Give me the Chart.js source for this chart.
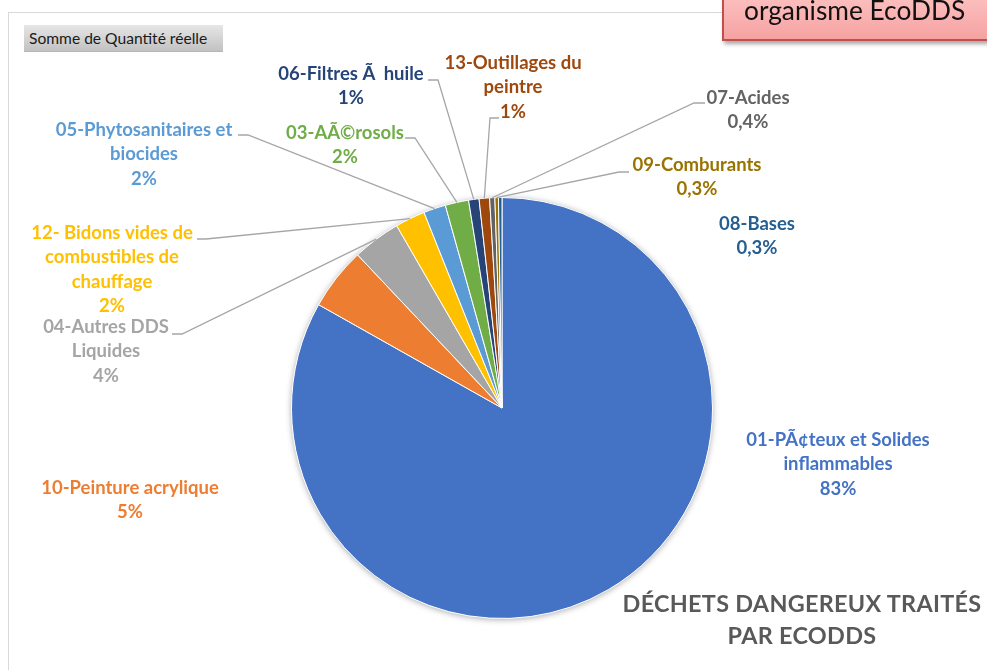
<!DOCTYPE html>
<html lang="fr">
<head>
<meta charset="utf-8">
<title>Déchets dangereux traités par EcoDDS</title>
<script src="https://cdn.jsdelivr.net/npm/chart.js@4.4.1/dist/chart.umd.min.js"></script>
<style>
  html, body { margin: 0; padding: 0; background: #fff; }
  #wrap { position: relative; width: 987px; height: 670px; overflow: hidden; font-family: Lato, 'Open Sans', sans-serif; }
  #frame { position: absolute; left: 8px; top: 12px; width: 1200px; height: 900px; border: 1px solid #d9d9d9; box-sizing: border-box; }
  #pivotBtn { position: absolute; left: 24px; top: 25px; width: 199px; height: 27px; box-sizing: border-box;
    background: linear-gradient(#e6e6e6, #c2c2c2); border-bottom: 1px solid #b5b5b5;
    font-size: 15.6px; line-height: 27px; padding-left: 5px; color: #1a1a1a; white-space: nowrap; }
  #tag { position: absolute; left: 722px; top: -21px; width: 300px; height: 62px; box-sizing: border-box;
    background: linear-gradient(#ffcaca, #f6a2a2); border: 2px solid #c0504d; box-shadow: 2px 3px 4px rgba(0,0,0,0.35); }
  #tag span { position: absolute; left: 20px; top: 14px; font-size: 26.3px; line-height: 30px; color: #111; white-space: nowrap; }
  #title { position: absolute; left: 600px; width: 404px; top: 587px; text-align: center; font-weight: bold;
    font-size: 23.4px; line-height: 32px; color: #595959; letter-spacing: 0.3px; }
  canvas { position: absolute; left: 0; top: 0; }
</style>
</head>
<body>
<div id="wrap">
  <div id="frame"></div>
  <canvas id="pieChart" width="987" height="670"></canvas>
  <div id="pivotBtn">Somme de Quantité réelle</div>
  <div id="tag"><span>organisme EcoDDS</span></div>
  <div id="title">DÉCHETS DANGEREUX TRAITÉS<br>PAR ECODDS</div>
</div>
<script>
// categories, clockwise from 12 o'clock (labels kept as they appear, mojibake included)
const categories = [
  '01-PÃ¢teux et Solides inflammables',
  '10-Peinture acrylique',
  '04-Autres DDS Liquides',
  '12- Bidons vides de combustibles de chauffage',
  '05-Phytosanitaires et biocides',
  '03-AÃ©rosols',
  '06-Filtres Ã\u00A0 huile',
  '13-Outillages du peintre',
  '07-Acides',
  '09-Comburants',
  '08-Bases'
];
// share of "Somme de Quantité réelle" (%)
const quantities = [83.2, 4.8, 3.7, 2.3, 1.7, 1.8, 0.8, 0.8, 0.4, 0.27, 0.27];
const sliceColors = ['#4472C4', '#ED7D31', '#A5A5A5', '#FFC000', '#5B9BD5', '#70AD47',
                     '#264478', '#9E480E', '#636363', '#997300', '#255E91'];

// label layout: [centre x, first line y], wrap width, leader start + elbow x
const labelPos = [[838, 440], [130, 488], [106, 327], [112, 233], [144, 130], [345, 133],
                  [351, 74], [513, 63], [748, 98], [697, 165], [757, 224]];
const wrapWidth = [200, 300, 140, 178, 195, 240, 240, 150, 200, 200, 200];
const leaders = [null, null,
  { from: [172, 334], elbow: 182 },
  { from: [197, 239], elbow: 206 },
  { from: [238, 135], elbow: 248 },
  { from: [405, 138], elbow: 415 },
  { from: [428, 80], elbow: 438 },
  { from: [499, 118], elbow: 490 },
  { from: [705, 103], elbow: 694 },
  { from: [629, 172], elbow: 619 },
  null];

const LINE_H = 24.5;
const LABEL_FONT = 'bold 18.5px Lato, "Open Sans", sans-serif';

function fmtPct(v, total) {
  const p = v / total * 100;
  if (Math.round(p) === 0) return p.toFixed(1).replace('.', ',') + '%';
  return Math.round(p) + '%';
}

function wrapText(ctx, text, maxW) {
  const words = text.split(' ');
  const lines = [];
  let cur = '';
  words.forEach(w => {
    const test = cur ? cur + ' ' + w : w;
    if (cur && ctx.measureText(test).width > maxW) {
      lines.push(cur);
      cur = w;
    } else {
      cur = test;
    }
  });
  if (cur) lines.push(cur);
  return lines;
}

const sliceLabels = {
  id: 'sliceLabels',
  beforeDatasetsDraw(chart) {
    // soft shadow round the pie
    const arc = chart.getDatasetMeta(0).data[0];
    const ctx = chart.ctx;
    ctx.save();
    ctx.shadowColor = 'rgba(0,0,0,0.35)';
    ctx.shadowBlur = 6;
    ctx.shadowOffsetY = 1;
    ctx.fillStyle = '#fff';
    ctx.beginPath();
    ctx.arc(arc.x, arc.y, arc.outerRadius, 0, Math.PI * 2);
    ctx.fill();
    ctx.restore();
  },
  afterDatasetsDraw(chart) {
    const ctx = chart.ctx;
    const arcs = chart.getDatasetMeta(0).data;
    const total = quantities.reduce((a, b) => a + b, 0);
    ctx.save();
    arcs.forEach((arc, i) => {
      const ld = leaders[i];
      if (ld) {
        const mid = (arc.startAngle + arc.endAngle) / 2;
        const tx = arc.x + Math.cos(mid) * arc.outerRadius;
        const ty = arc.y + Math.sin(mid) * arc.outerRadius;
        ctx.strokeStyle = '#a6a6a6';
        ctx.lineWidth = 1.3;
        ctx.beginPath();
        ctx.moveTo(ld.from[0], ld.from[1]);
        ctx.lineTo(ld.elbow, ld.from[1]);
        ctx.lineTo(tx, ty);
        ctx.stroke();
      }
      ctx.font = LABEL_FONT;
      ctx.fillStyle = sliceColors[i];
      ctx.textAlign = 'center';
      ctx.textBaseline = 'middle';
      const lines = wrapText(ctx, categories[i], wrapWidth[i]);
      lines.push(fmtPct(quantities[i], total));
      lines.forEach((t, k) => ctx.fillText(t, labelPos[i][0], labelPos[i][1] + k * LINE_H));
    });
    ctx.restore();
  }
};

new Chart(document.getElementById('pieChart'), {
  type: 'pie',
  data: {
    labels: categories,
    datasets: [{
      data: quantities,
      backgroundColor: sliceColors,
      borderColor: '#ffffff',
      borderWidth: 1
    }]
  },
  options: {
    responsive: false,
    animation: false,
    layout: { padding: { left: 291, right: 274, top: 197, bottom: 51 } },
    plugins: { legend: { display: false }, tooltip: { enabled: false } }
  },
  plugins: [sliceLabels]
});
</script>
</body>
</html>
